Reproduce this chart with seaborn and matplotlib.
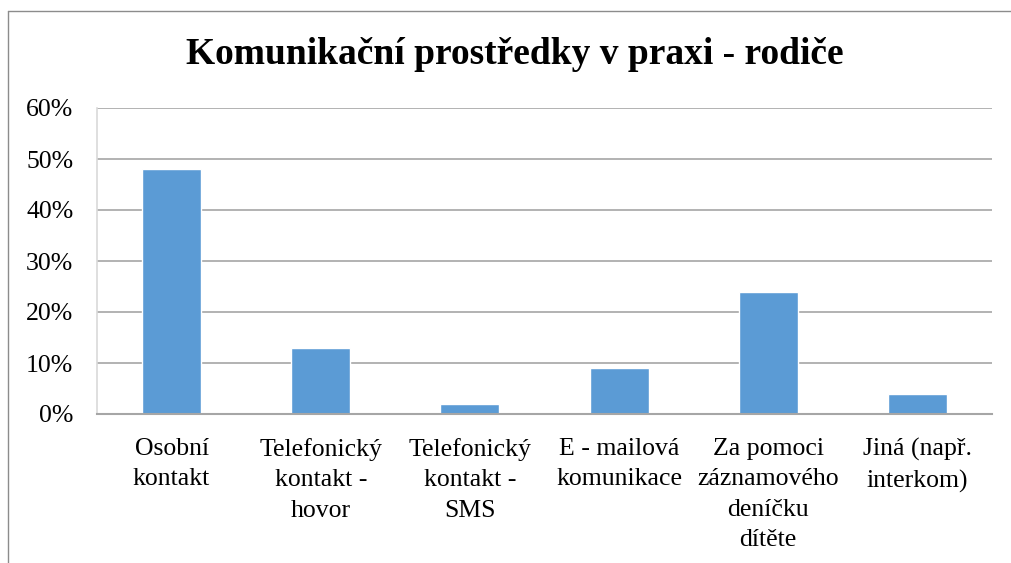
import matplotlib
matplotlib.use("Agg")
import matplotlib.pyplot as plt
import seaborn as sns
import pandas as pd
from matplotlib.lines import Line2D
from matplotlib.ticker import FuncFormatter

categories = ["Osobní\nkontakt", "Telefonický\nkontakt -\nhovor", "Telefonický\nkontakt -\nSMS",
              "E - mailová\nkomunikace", "Za pomoci\nzáznamového\ndeníčku\ndítěte", "Jiná (např.\ninterkom)"]
values = [48, 13, 2, 9, 24, 4]
title = "Komunikační prostředky v praxi - rodiče"

sns.set_theme(style="white")
plt.rcParams['font.family'] = ['Liberation Serif', 'DejaVu Serif']
plt.rcParams['text.color'] = 'black'
plt.rcParams['xtick.color'] = 'black'
plt.rcParams['ytick.color'] = 'black'

df = pd.DataFrame({"cat": categories, "val": values})

fig = plt.figure(figsize=(10.12, 5.63), dpi=100)
W, H = 1012, 563
ax = fig.add_axes([97 / W, 1 - 414 / H, (992 - 97) / W, (414 - 108) / H])

sns.barplot(data=df, x="cat", y="val", color="#5B9BD5", saturation=1, width=0.395, ax=ax, zorder=3)

ax.set_ylim(0, 60)
ax.set_yticks(range(0, 61, 10))
ax.yaxis.set_major_formatter(FuncFormatter(lambda v, p: f"{int(v)}%"))
ax.set_xticks(range(len(categories)))
ax.set_xticklabels(categories, fontfamily=['Liberation Serif', 'DejaVu Serif'], fontsize=18.5,
                   color='black', linespacing=1.5)
ax.grid(axis="y", color="#A6A6A6", linewidth=1.2, zorder=0)
ax.set_axisbelow(True)
ax.set_xlabel("")
ax.set_ylabel("")
for s in ["top", "right"]:
    ax.spines[s].set_visible(False)
ax.spines["left"].set_color("#D9D9D9")
ax.spines["left"].set_linewidth(1.2)
ax.spines["bottom"].set_color("#A6A6A6")
ax.spines["bottom"].set_linewidth(1.5)
ax.spines["bottom"].set_zorder(5)
ax.tick_params(axis="both", length=0, labelsize=18.5, colors="black")
ax.tick_params(axis="y", pad=17)
ax.tick_params(axis="x", pad=17)
for lbl in ax.get_yticklabels():
    lbl.set_fontfamily(['Liberation Serif', 'DejaVu Serif'])

fig.text(515 / W, 1 - 55 / H, title, ha="center", va="center", fontsize=27, fontweight="bold",
         color="black", fontfamily=['Liberation Serif', 'DejaVu Serif'])

# outer frame
fig.add_artist(Line2D([8 / W, 8 / W], [0, 1 - 11 / H], transform=fig.transFigure, color="#8C8C8C", lw=1))
fig.add_artist(Line2D([8 / W, 1], [1 - 11 / H, 1 - 11 / H], transform=fig.transFigure, color="#8C8C8C", lw=1))

fig.savefig("out.png", dpi=100, facecolor="white")
